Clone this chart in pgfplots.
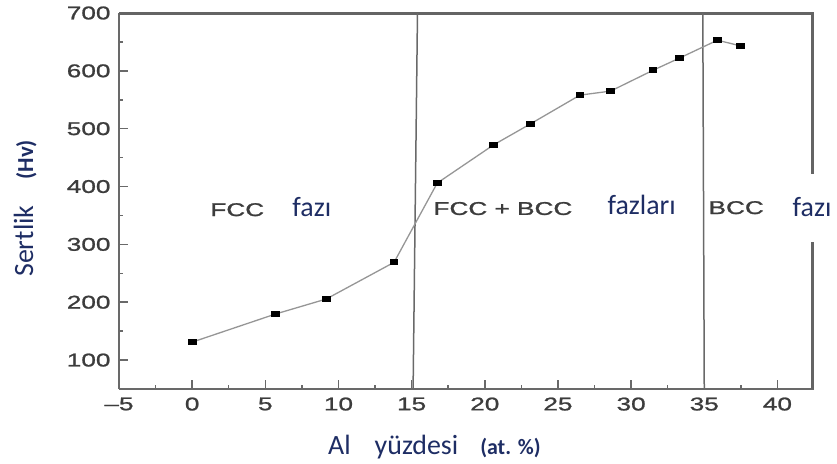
\documentclass[border=0pt]{standalone}
\usepackage{pgfplots}
\pgfplotsset{compat=1.18}
\usepackage{fontspec}
\setmainfont{Carlito}
\newfontfamily\tickfont[FakeStretch=1.42,FakeBold=1.2]{Liberation Sans}
\definecolor{navy}{RGB}{30,45,100}
\definecolor{tickgray}{RGB}{60,60,60}
\definecolor{framegray}{RGB}{105,105,105}
\definecolor{bordergray}{RGB}{100,100,100}
\definecolor{linegray}{RGB}{150,150,150}
\newcommand{\tf}{\tickfont\fontsize{18.5}{20}\selectfont}
\begin{document}
\begin{tikzpicture}
\useasboundingbox (0,0) rectangle (837bp,464bp);
\begin{axis}[
 at={(119bp,75bp)}, anchor=south west,
 scale only axis, width=695bp, height=376bp,
 xmin=-5, xmax=42.5, ymin=50, ymax=700,
 axis x line*=bottom, axis y line*=left,
 axis line style={-, draw=framegray, line width=1.8bp},
 xtick={-5,0,...,40},
 xticklabels={\textendash5,0,5,10,15,20,25,30,35,40},
 ytick={100,200,...,700},
 minor x tick num=1, minor y tick num=1,
 tick align=inside,
 major tick length=9bp, minor tick length=4bp,
 tick style={draw=framegray, line width=1.5bp},
 tick label style={font=\tf, text=tickgray},
 /pgf/number format/assume math mode=true,
 yticklabel style={xshift=-5bp},
 xticklabel style={yshift=-5bp},
 xlabel={Al\hspace{24bp}yüzdesi\hspace{22bp}{\bfseries\fontsize{22}{24}\selectfont(at. \%)}},
 xlabel style={at={(axis description cs:0.3007,-0.173)}, anchor=base west, inner sep=0pt, font=\fontsize{28}{30}\selectfont, text=navy},
 ylabel={Sertlik\hspace{26bp}{\bfseries\fontsize{23}{25}\selectfont(Hv)}},
 ylabel style={at={(axis description cs:-0.1237,0.298)}, anchor=base west, inner sep=0pt, font=\fontsize{28}{30}\selectfont, text=navy},
 clip=false,
]
% top and broken right frame
\addplot[draw=bordergray, line width=2.2bp] coordinates {(-5,699) (42.4,699) (42.4,422)};
\addplot[draw=bordergray, line width=2.2bp] coordinates {(42.4,304) (42.4,50)};
% phase boundaries
\addplot[draw=framegray, line width=1.5bp] coordinates {(15.4,700) (15.1,50)};
\addplot[draw=framegray, line width=1.5bp] coordinates {(34.9,700) (35.0,50)};
% data
\addplot[draw=linegray, line width=1.3bp, mark=square*, mark size=2.5bp,
  mark options={fill=black, draw=black, xscale=1.5}] coordinates {
 (0,131) (5.68,179.5) (9.16,205.5) (13.8,269) (16.75,406) (20.6,472)
 (23.1,508) (26.5,558) (28.6,565) (31.5,601) (33.3,622) (35.9,653) (37.5,643)
};
% phase labels
\node[anchor=base west, inner sep=0pt, font=\tf, text=tickgray] at (axis cs:1.23,349) {FCC};
\node[anchor=base west, inner sep=0pt, font=\fontsize{28}{30}\selectfont, text=navy] at (axis cs:6.84,349) {fazı};
\node[anchor=base west, inner sep=0pt, font=\tf, text=tickgray] at (axis cs:16.48,351) {FCC + BCC};
\node[anchor=base west, inner sep=0pt, font=\fontsize{28}{30}\selectfont, text=navy] at (axis cs:28.38,351) {fazları};
\node[anchor=base west, inner sep=0pt, font=\tf, text=tickgray] at (axis cs:35.28,352.5) {BCC};
\node[anchor=base west, inner sep=0pt, font=\fontsize{28}{30}\selectfont, text=navy] at (axis cs:41.03,349) {fazı};
\end{axis}
\end{tikzpicture}
\end{document}
